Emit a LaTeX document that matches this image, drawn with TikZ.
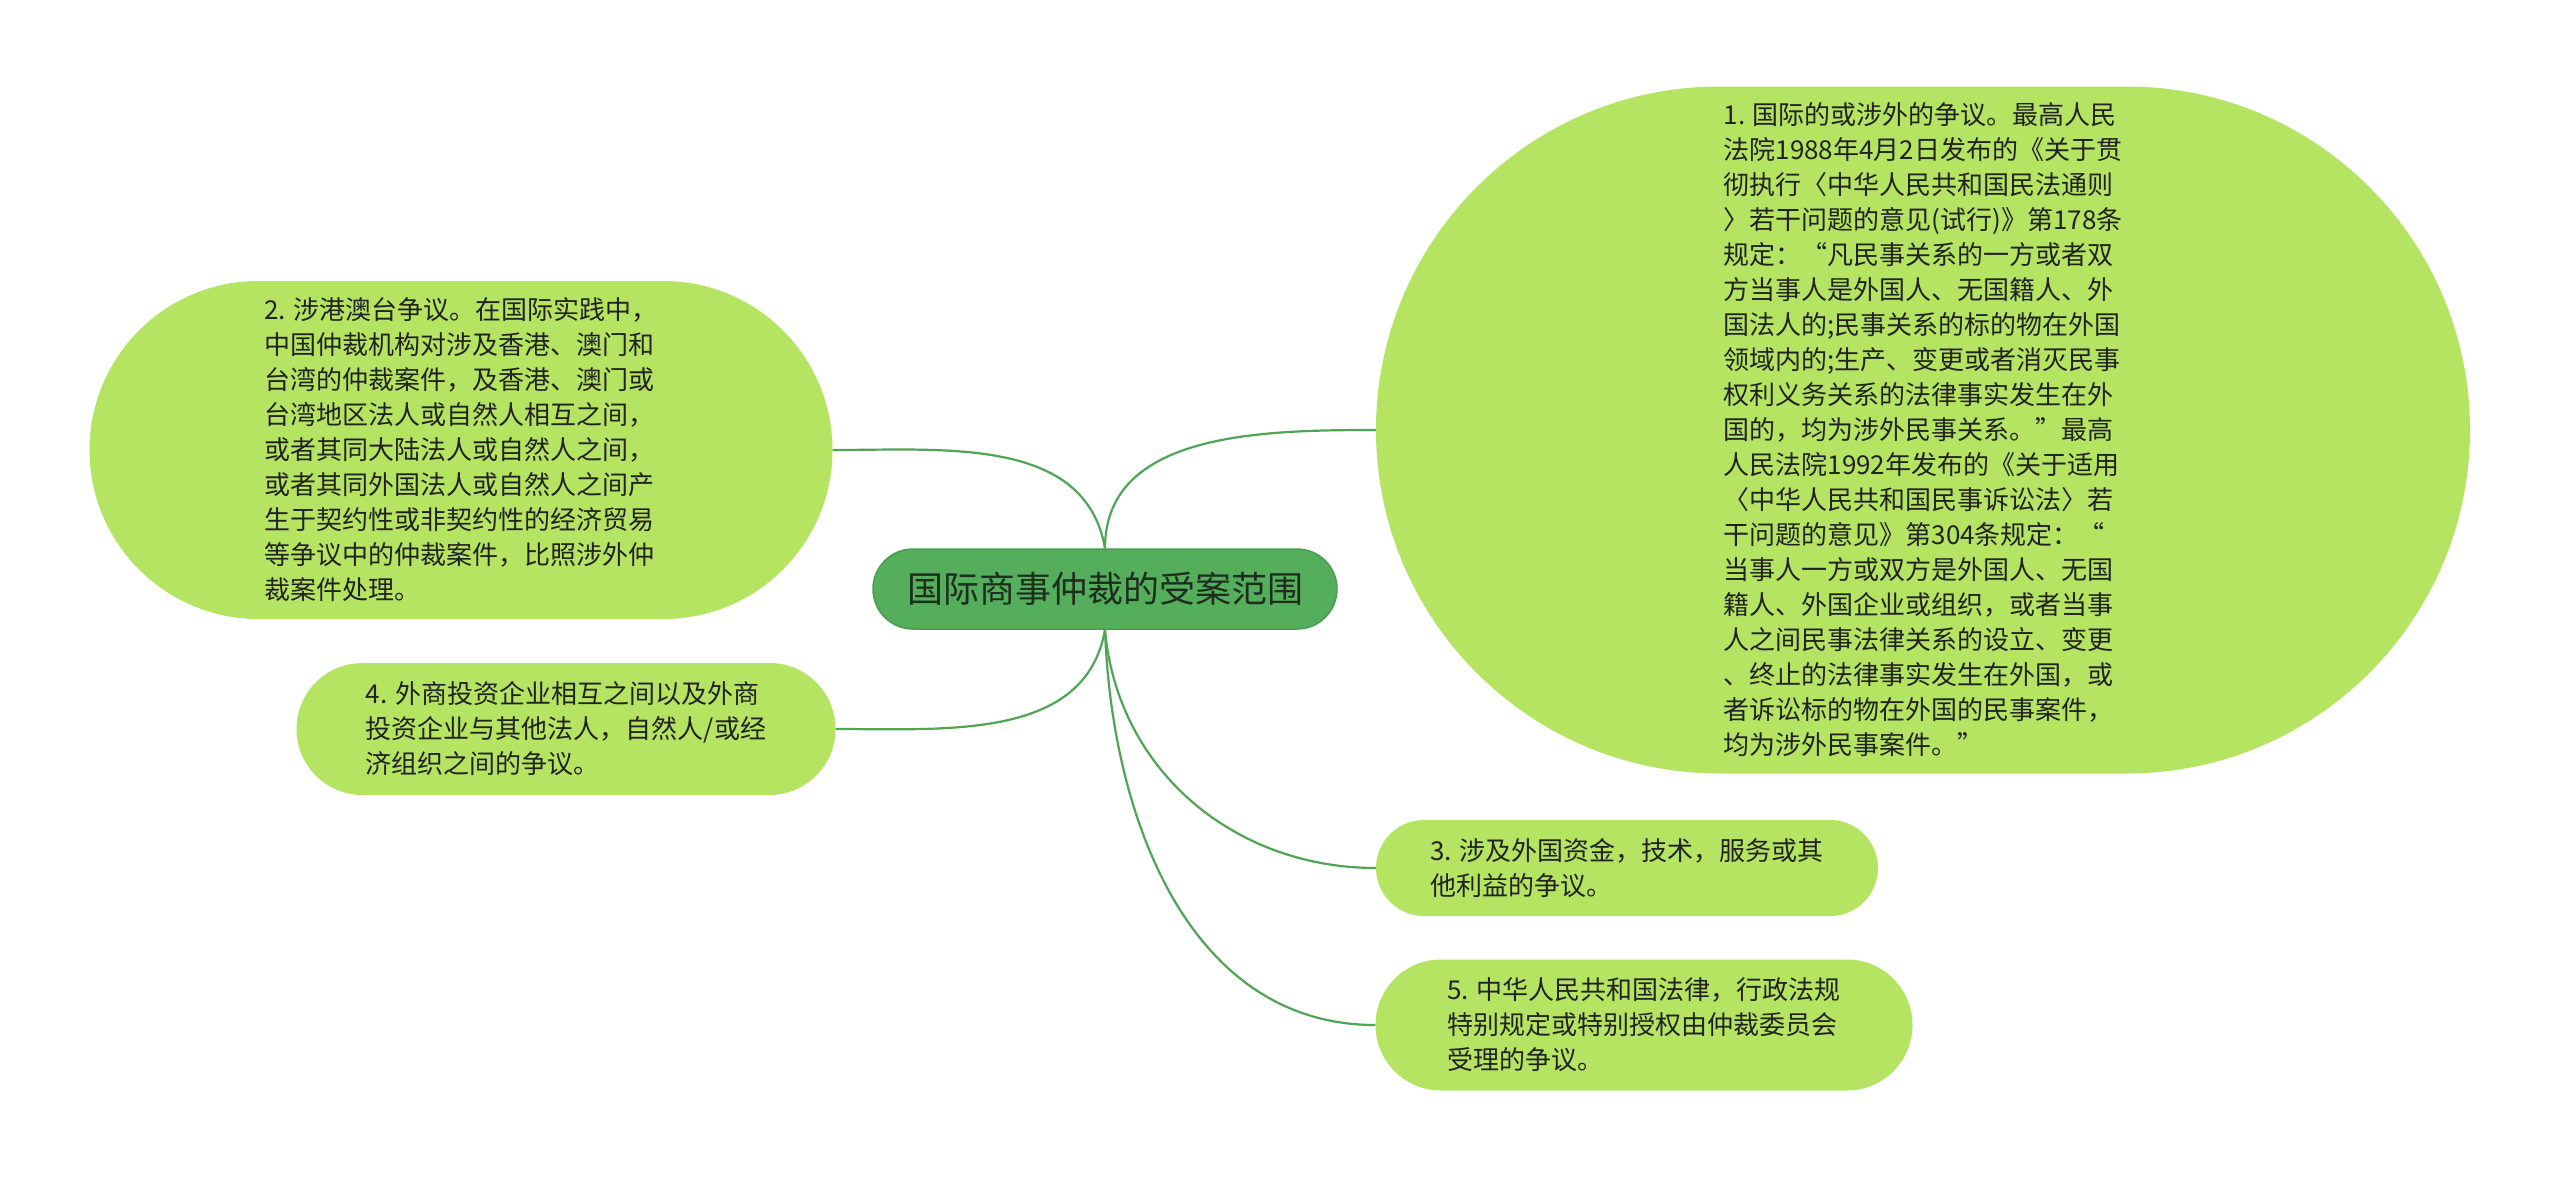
\documentclass[tikz,border=0pt]{standalone}
\usepackage{fontspec}
\setmainfont{Noto Sans CJK SC}
\usetikzlibrary{shapes.misc}
\definecolor{leaf}{HTML}{B4E462}
\definecolor{rootfill}{HTML}{55AE5B}
\definecolor{rootdraw}{HTML}{4A9E50}
\definecolor{edgecol}{HTML}{4FA456}
\definecolor{txt}{HTML}{222222}
\definecolor{roottxt}{HTML}{1E2E1E}
\begin{document}
\begin{tikzpicture}[x=1pt,y=1pt,
  pill/.style={rounded rectangle, fill=leaf, inner sep=0pt, align=left, text=txt,
    font=\fontsize{26}{35}\selectfont},
  rootpill/.style={rounded rectangle, fill=rootfill, draw=rootdraw, line width=1.5pt,
    inner sep=0pt, text=roottxt, font=\fontsize{36}{40}\selectfont},
  link/.style={draw=edgecol, line width=2.2pt}]
\useasboundingbox[fill=white] (0,0) rectangle (2560,-1178);

\node[rootpill, minimum width=464pt, minimum height=80pt] (c) at (1105,-589) {国际商事仲裁的受案范围};

\node[pill, minimum width=1094pt, minimum height=687pt] (n1) at (1923,-430) {1. 国际的或涉外的争议。最高人民\\
法院1988年4月2日发布的《关于贯\\
彻执行〈中华人民共和国民法通则\\
〉若干问题的意见(试行)》第178条\\
规定：“凡民事关系的一方或者双\\
方当事人是外国人、无国籍人、外\\
国法人的;民事关系的标的物在外国\\
领域内的;生产、变更或者消灭民事\\
权利义务关系的法律事实发生在外\\
国的，均为涉外民事关系。”最高\\
人民法院1992年发布的《关于适用\\
〈中华人民共和国民事诉讼法〉若\\
干问题的意见》第304条规定：“\\
当事人一方或双方是外国人、无国\\
籍人、外国企业或组织，或者当事\\
人之间民事法律关系的设立、变更\\
、终止的法律事实发生在外国，或\\
者诉讼标的物在外国的民事案件，\\
均为涉外民事案件。”};

\node[pill, minimum width=743pt, minimum height=338pt] (n2) at (461,-450) {2. 涉港澳台争议。在国际实践中，\\
中国仲裁机构对涉及香港、澳门和\\
台湾的仲裁案件，及香港、澳门或\\
台湾地区法人或自然人相互之间，\\
或者其同大陆法人或自然人之间，\\
或者其同外国法人或自然人之间产\\
生于契约性或非契约性的经济贸易\\
等争议中的仲裁案件，比照涉外仲\\
裁案件处理。};

\node[pill, minimum width=539pt, minimum height=132pt] (n4) at (566,-729) {4. 外商投资企业相互之间以及外商\\
投资企业与其他法人，自然人/或经\\
济组织之间的争议。};

\node[pill, minimum width=502pt, minimum height=96pt] (n3) at (1627,-868) {3. 涉及外国资金，技术，服务或其\\
他利益的争议。};

\node[pill, minimum width=537pt, minimum height=131pt] (n5) at (1644,-1025) {5. 中华人民共和国法律，行政法规\\
特别规定或特别授权由仲裁委员会\\
受理的争议。};

\draw[link] (c.north) to[out=90,in=180] (n1.west);
\draw[link] (c.north) to[out=100,in=0] (n2.east);
\draw[link] (c.south) to[out=-100,in=0] (n4.east);
\draw[link] (c.south) to[out=-85,in=180] (n3.west);
\draw[link] (c.south) to[out=-88,in=180] (n5.west);
\end{tikzpicture}
\end{document}
